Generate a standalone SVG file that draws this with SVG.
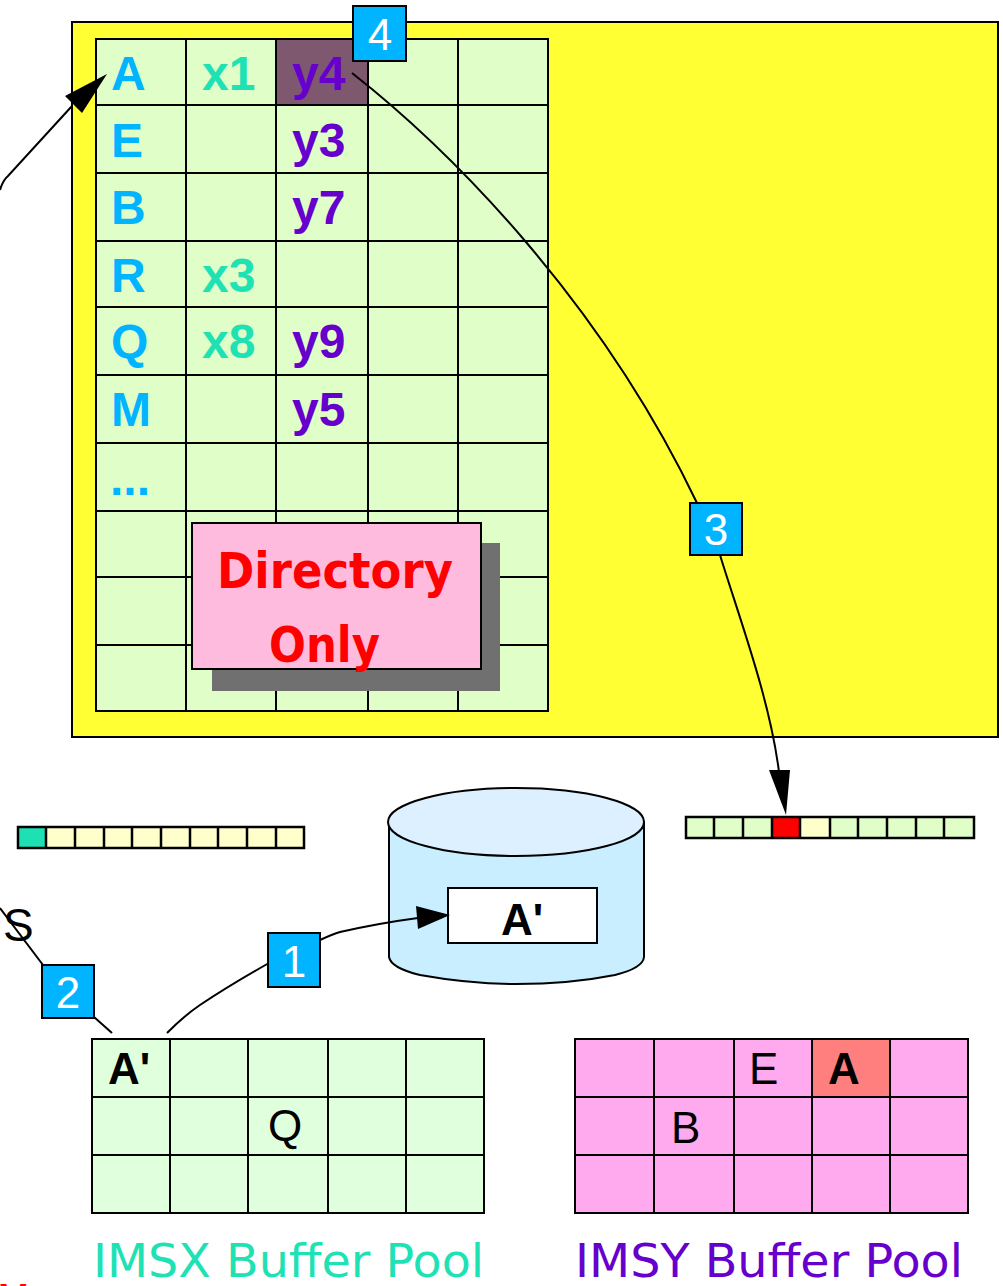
<svg xmlns="http://www.w3.org/2000/svg" width="1003" height="1286" viewBox="0 0 1003 1286">
<style>
.grid{stroke:#000;stroke-width:2;fill:none}
.lbl{fill:#00b4ff;stroke:#000;stroke-width:2}
.lt{font-family:"Liberation Sans",Arial,sans-serif;font-size:44px;fill:#fff;text-anchor:middle}
.k{font-family:"Liberation Sans",Arial,sans-serif;font-size:48px;font-weight:bold;fill:#00b4ff}
.x{font-family:"Liberation Sans",Arial,sans-serif;font-size:48px;font-weight:bold;fill:#1ee2b4}
.y{font-family:"Liberation Sans",Arial,sans-serif;font-size:48px;font-weight:bold;fill:#6600cc}
.bp{font-family:"Liberation Sans",Arial,sans-serif;font-size:44px;fill:#000}
.bpb{font-family:"Liberation Sans",Arial,sans-serif;font-size:44px;font-weight:bold;fill:#000}
.cm{font-family:"DejaVu Sans","Noto Sans",sans-serif}
.conn{fill:none;stroke:#000;stroke-width:2}
.cell{stroke:#000;stroke-width:2.5}
</style>

<g id="directory-panel">
<rect x="72" y="22" width="926" height="715" fill="#ffff33" stroke="#000" stroke-width="2"/>
<rect x="96" y="39" width="452" height="672" fill="#e0ffc8"/>
<rect x="276" y="39" width="92" height="66" fill="#7e586e"/>
<path class="grid" d="M96,39H548V711H96Z M186,39V711 M276,39V711 M368,39V711 M458,39V711 M96,105H548 M96,173H548 M96,241H548 M96,307H548 M96,375H548 M96,443H548 M96,511H548 M96,577H548 M96,645H548"/>
<text class="k" x="111" y="90">A</text>
<text class="k" x="111" y="157">E</text>
<text class="k" x="111" y="224">B</text>
<text class="k" x="111" y="292">R</text>
<text class="k" x="111" y="358">Q</text>
<text class="k" x="111" y="426">M</text>
<text class="k" x="110" y="495">...</text>
<text class="x" x="202" y="90">x1</text>
<text class="x" x="202" y="292">x3</text>
<text class="x" x="202" y="358">x8</text>
<text class="y" x="292" y="90">y4</text>
<text class="y" x="292" y="157">y3</text>
<text class="y" x="292" y="224">y7</text>
<text class="y" x="292" y="358">y9</text>
<text class="y" x="292" y="426">y5</text>
</g>

<g id="directory-only">
<rect x="212" y="543" width="288" height="148" fill="#707070"/>
<rect x="192" y="523" width="289" height="146" fill="#ffbbdd" stroke="#000" stroke-width="2"/>
<text class="cm" x="217" y="588" font-size="50" font-weight="bold" fill="#ff0000" textLength="236" lengthAdjust="spacingAndGlyphs">Directory</text>
<text class="cm" x="269" y="662" font-size="50" font-weight="bold" fill="#ff0000" textLength="111" lengthAdjust="spacingAndGlyphs">Only</text>
</g>

<g id="bitvector-x">
<rect x="18" y="827" width="286" height="21" fill="#ffffcc"/>
<rect x="18" y="827" width="28" height="21" fill="#1de0b4"/>
<path class="cell" fill="none" d="M18,827H304V848H18Z M46,827V848 M75,827V848 M104,827V848 M132,827V848 M161,827V848 M190,827V848 M218,827V848 M247,827V848 M276,827V848"/>
</g>

<g id="bitvector-y">
<rect x="686" y="817" width="288" height="21" fill="#e0ffc8"/>
<rect x="772" y="817" width="28" height="21" fill="#ff0000"/>
<rect x="800" y="817" width="30" height="21" fill="#ffffcc"/>
<path class="cell" fill="none" d="M686,817H974V838H686Z M714,817V838 M743,817V838 M772,817V838 M800,817V838 M830,817V838 M858,817V838 M887,817V838 M916,817V838 M944,817V838"/>
</g>

<g id="dasd">
<path d="M389,822 V957 Q391,968 420,975 Q470,984 516,984 Q570,984 615,975 Q643,968 644,957 V822 Z" fill="#c8eeff" stroke="#000" stroke-width="2"/>
<ellipse cx="516" cy="822" rx="128" ry="34" fill="#ddf0ff" stroke="#000" stroke-width="2"/>
<rect x="448" y="888" width="149" height="55" fill="#fff" stroke="#000" stroke-width="2"/>
<text x="522" y="935" font-family="'Liberation Sans',Arial,sans-serif" font-size="44" font-weight="bold" text-anchor="middle">A'</text>
</g>

<g id="imsx-pool">
<rect x="92" y="1039" width="392" height="174" fill="#e0ffdc"/>
<path class="grid" d="M92,1039H484V1213H92Z M170,1039V1213 M248,1039V1213 M328,1039V1213 M406,1039V1213 M92,1097H484 M92,1155H484"/>
<text class="bpb" x="108" y="1084">A'</text>
<text class="bp" x="268" y="1141">Q</text>
<text class="cm" x="93" y="1277" font-size="46" fill="#1ee2b4" textLength="391" lengthAdjust="spacingAndGlyphs">IMSX Buffer Pool</text>
</g>

<g id="imsy-pool">
<rect x="575" y="1039" width="393" height="174" fill="#ffaaee"/>
<rect x="812" y="1039" width="78" height="58" fill="#ff7f7f"/>
<path class="grid" d="M575,1039H968V1213H575Z M654,1039V1213 M734,1039V1213 M812,1039V1213 M890,1039V1213 M575,1097H968 M575,1155H968"/>
<text class="bp" x="749" y="1084">E</text>
<text class="bpb" x="828" y="1084">A</text>
<text class="bp" x="671" y="1143">B</text>
<text class="cm" x="575" y="1277" font-size="46" fill="#6600cc" textLength="388" lengthAdjust="spacingAndGlyphs">IMSY Buffer Pool</text>
</g>

<g id="edge-text">
<text x="3" y="941" font-family="'Liberation Sans',Arial,sans-serif" font-size="46" fill="#000">S</text>
<text x="0" y="1312" font-family="'Liberation Sans',Arial,sans-serif" font-size="40" font-weight="bold" fill="#ff0000">V</text>
</g>

<g id="connectors">
<path class="conn" d="M0,190 Q3,180 8,176 L72,106"/>
<path d="M107,74 L65,96 L82,113 Z" fill="#000"/>
<path class="conn" d="M352,73 C450,150 600,300 697,503"/>
<path class="conn" d="M720,555 C740,620 770,700 779,772"/>
<path d="M786,815 L769,770 L790,770 Z" fill="#000"/>
<path class="conn" d="M167,1033 Q185,1015 200,1005 Q230,985 269,963"/>
<path class="conn" d="M320,940 Q333,934 340,932 Q380,923 418,918"/>
<path d="M450,915 L416,906 L418,929 Z" fill="#000"/>
<path class="conn" d="M0,908 L43,965"/>
<path class="conn" d="M94,1017 L112,1033"/>
</g>

<g id="label-1"><rect class="lbl" x="268" y="933" width="52" height="54"/><text class="lt" x="294" y="977">1</text></g>
<g id="label-2"><rect class="lbl" x="42" y="965" width="52" height="53"/><text class="lt" x="68" y="1008">2</text></g>
<g id="label-3"><rect class="lbl" x="690" y="503" width="52" height="52"/><text class="lt" x="716" y="545">3</text></g>
<g id="label-4"><rect class="lbl" x="353" y="6" width="53" height="55"/><text class="lt" x="380" y="50">4</text></g>
</svg>
